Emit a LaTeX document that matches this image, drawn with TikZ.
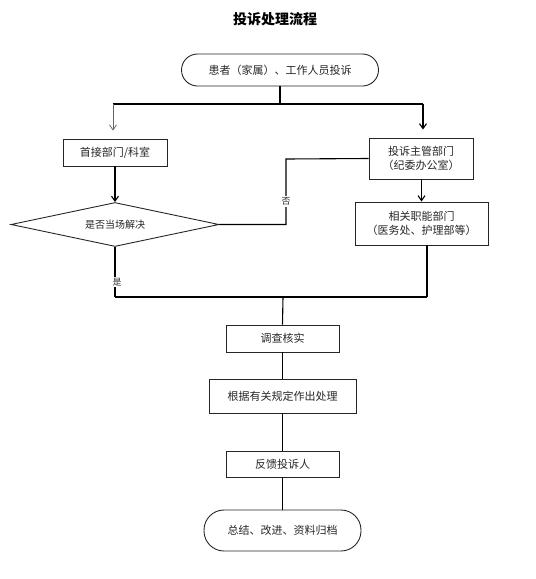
\documentclass[tikz,border=0pt]{standalone}
\usepackage{fontspec}
\setmainfont{Noto Sans CJK SC}
\usetikzlibrary{arrows.meta,shapes.geometric}
\begin{document}
\begin{tikzpicture}[x=1pt,y=1pt,
  txt/.style={font=\fontsize{11}{14}\selectfont, text=black!85},
  boxnode/.style={txt, draw=black!85, line width=0.9pt, rectangle, inner sep=0pt, align=center},
  capsule/.style={boxnode, rounded corners=16pt},
  decision/.style={txt, draw=black!85, line width=0.9pt, diamond, inner sep=0pt},
  link/.style={line width=1.1pt, black},
  bar/.style={line width=2pt, black},
  arr/.style={-{Straight Barb[length=5pt,width=7pt]}, line width=1.1pt},
  lbl/.style={font=\fontsize{9}{11}\selectfont, text=black!80, fill=white, inner sep=1.5pt}]
\useasboundingbox (0,0) rectangle (536,-579);

\node[font=\fontsize{14}{16}\selectfont\bfseries] (title) at (275,-19) {投诉处理流程};

\node[capsule, minimum width=197pt, minimum height=32pt] (start) at (280,-70) {患者（家属）、工作人员投诉};
\node[boxnode, minimum width=104pt, minimum height=27pt] (A) at (115,-152.5) {首接部门/科室};
\node[boxnode, minimum width=104pt, minimum height=41pt] (B) at (421,-158.5) {投诉主管部门\\（纪委办公室）};
\node[decision, minimum width=208pt, minimum height=44pt, aspect=4.7, font=\fontsize{10}{12}\selectfont] (D) at (115,-224.5) {是否当场解决};
\node[boxnode, minimum width=133pt, minimum height=43pt] (C) at (421.5,-223.5) {相关职能部门\\（医务处、护理部等）};
\node[boxnode, minimum width=113pt, minimum height=27pt] (E) at (282.5,-338.5) {调查核实};
\node[boxnode, minimum width=147pt, minimum height=34pt] (F) at (282.5,-396) {根据有关规定作出处理};
\node[boxnode, minimum width=113pt, minimum height=26pt] (G) at (282.5,-464) {反馈投诉人};
\node[capsule, rounded corners=20pt, minimum width=157pt, minimum height=41pt] (H) at (282.5,-530.5) {总结、改进、资料归档};

% top split
\coordinate (j1) at (280,-104);
\coordinate (bl) at (113,-104);
\coordinate (br) at (423,-104);
\draw[link] (start.south) -- (j1);
\draw[bar] (bl) -- (br);
\draw[arr, black!60, line width=0.8pt, shorten >=8pt] (bl) -- (bl |- A.north);
\draw[arr, shorten >=8pt] (br) -- (br |- B.north);

% left branch
\draw[arr] (A.south) -- (D.north);
\coordinate (n1) at (286,-224.5);
\coordinate (n2) at (286,-159);
\draw[link] (D.east) -- (n1) -- node[lbl, pos=0.35] (no) {否} (n2) -- (B.west);

% right branch
\draw[arr] (B.south) -- (C.south |- B.south) -- (C.north);
\coordinate (jr) at (427,-297);
\coordinate (jl) at (115,-297);
\coordinate (jm) at (283,-297);
\draw[link] (jr |- C.south) -- (jr);
\draw[link] (D.south) -- node[lbl, pos=0.7, xshift=2pt] (yes) {是} (jl);
\draw[bar] (jl) -- (jr);

% bottom chain
\draw[link] (jm) -- (E.north);
\draw[link] (E.south) -- (F.north);
\draw[link] (F.south) -- (G.north);
\draw[link] (G.south) -- (H.north);
\end{tikzpicture}
\end{document}
